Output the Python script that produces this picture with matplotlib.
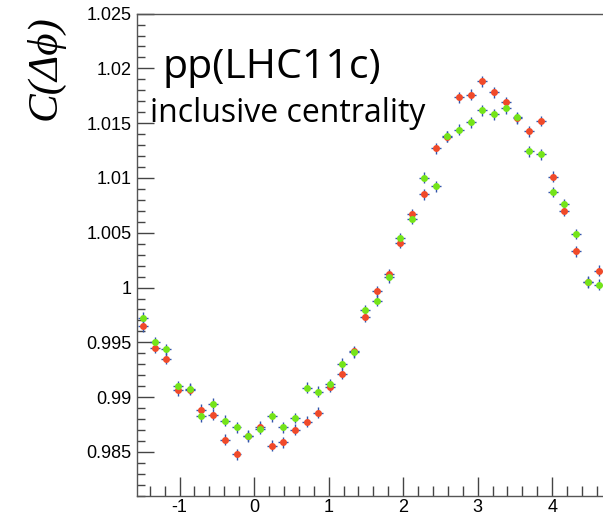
#!/usr/bin/env python
# coding: utf-8

import numpy as np
import matplotlib
matplotlib.use('Agg')
import matplotlib.pyplot as plt
from matplotlib.ticker import MultipleLocator

# 40 bins of delta-phi from -pi/2 to 3pi/2
n_bins = 40
bin_width = 2 * np.pi / n_bins
dphi = -np.pi / 2 + (np.arange(n_bins) + 0.5) * bin_width

c_red = [0.99645, 0.99452, 0.99349, 0.99063, 0.99066, 0.98886, 0.98840, 0.98610,
         0.98479, 0.98644, 0.98731, 0.98558, 0.98589, 0.98701, 0.98776, 0.98856,
         0.99093, 0.99212, 0.99419, 0.99732, 0.99966, 1.00121, 1.00407, 1.00669,
         1.00851, 1.01271, 1.01378, 1.01736, 1.01760, 1.01882, 1.01782, 1.01693,
         1.01547, 1.01426, 1.01520, 1.01012, 1.00702, 1.00331, 1.00050, 1.00154]
c_green = [0.99725, 0.99501, 0.99437, 0.99099, 0.99075, 0.98826, 0.98941, 0.98783,
           0.98725, 0.98646, 0.98710, 0.98826, 0.98725, 0.98810, 0.99087, 0.99050,
           0.99118, 0.99306, 0.99410, 0.99793, 0.99880, 1.00094, 1.00450, 1.00626,
           1.01003, 1.00924, 1.01380, 1.01441, 1.01508, 1.01618, 1.01581, 1.01636,
           1.01554, 1.01246, 1.01216, 1.00872, 1.00760, 1.00489, 1.00054, 1.00024]
err_red = [0.0005] * n_bins
err_green = [0.0005] * n_bins


def draw():
    fig = plt.figure(figsize=(6.03, 5.15), dpi=100)
    ax = fig.add_axes([137 / 603, 19.2 / 515, 468.3 / 603, 482.2 / 515])

    for y, e, col in [(c_red, err_red, '#f04a2a'), (c_green, err_green, '#74e41a')]:
        ax.errorbar(dphi, y, xerr=bin_width / 2 * 0.85, yerr=e, fmt='o', ms=5.0,
                    mfc=col, mec=col, mew=0, ecolor='#3355aa', elinewidth=1.0,
                    capsize=0)

    ax.set_xlim(-np.pi / 2, 3 * np.pi / 2)
    ax.set_ylim(0.981, 1.025)

    ax.xaxis.set_major_locator(MultipleLocator(1))
    ax.xaxis.set_minor_locator(MultipleLocator(0.2))
    ax.yaxis.set_major_locator(MultipleLocator(0.005))
    ax.yaxis.set_minor_locator(MultipleLocator(0.001))
    ax.set_yticks([0.985, 0.99, 0.995, 1.0, 1.005, 1.01, 1.015, 1.02, 1.025])
    ax.set_yticklabels(['0.985', '0.99', '0.995', '1', '1.005', '1.01', '1.015', '1.02', '1.025'])
    ax.set_xticks([-1, 0, 1, 2, 3, 4])
    ax.set_xticklabels(['-1', '0', '1', '2', '3', '4'])

    ax.tick_params(which='both', direction='in', colors='#444444',
                   labelcolor='black', labelsize=13, width=1,
                   top=False, right=False)
    ax.tick_params(axis='x', which='major', length=14, pad=2)
    ax.tick_params(axis='x', which='minor', length=7)
    ax.tick_params(axis='y', which='major', length=12, pad=4)
    ax.tick_params(axis='y', which='minor', length=6)
    for lab in ax.get_xticklabels() + ax.get_yticklabels():
        lab.set_family('Liberation Sans')
    for s in ax.spines.values():
        s.set_color('#555555')
        s.set_linewidth(1)

    fig.text(45 / 603, 1 - 68 / 515, 'C(Δϕ)', rotation=90, ha='center', va='center',
             family='Liberation Serif', style='italic', fontsize=31)
    fig.text(162 / 603, 1 - 78 / 515, 'pp(LHC11c)', ha='left', va='baseline',
             family='Open Sans', fontsize=29.5)
    fig.text(150 / 603, 1 - 122 / 515, 'inclusive centrality', ha='left', va='baseline',
             family='Open Sans', fontsize=23)

    fig.savefig('out.png', dpi=100)
    plt.close(fig)


if __name__ == '__main__':
    draw()
